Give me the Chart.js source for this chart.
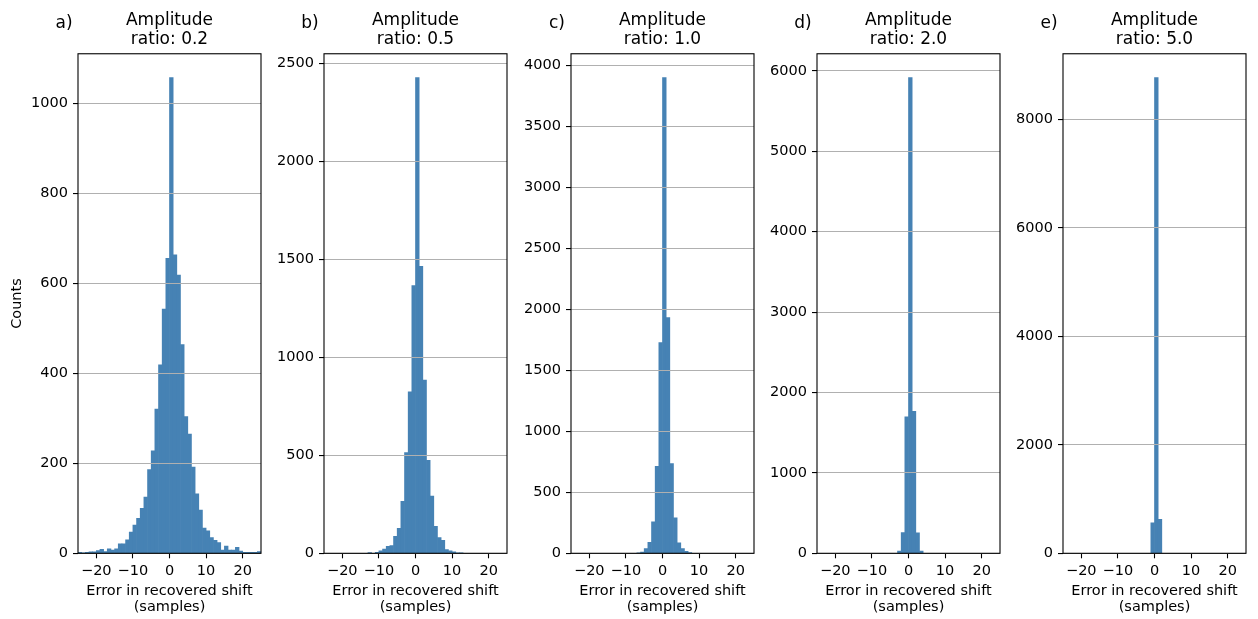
<!DOCTYPE html>
<html><head><meta charset="utf-8">
<script src="https://cdn.jsdelivr.net/npm/chart.js@4.4.1/dist/chart.umd.min.js"></script>
<style>
html,body{margin:0;padding:0;background:#fff;width:1258px;height:619px;overflow:hidden;position:relative;}
canvas{position:absolute;top:0;}
</style></head><body>
<script>
// Histogram bin left edges (bin width 1)
const binLeft = [-25,-24,-23,-22,-21,-20,-19,-18,-17,-16,-15,-14,-13,-12,-11,-10,-9,-8,-7,-6,-5,-4,-3,-2,-1,
                 0,1,2,3,4,5,6,7,8,9,10,11,12,13,14,15,16,17,18,19,20,21,22,23,24];

const countsA = [2,1,2,3,3,6,9,4,10,7,10,21,21,30,47,63,78,100,125,186,228,321,419,543,656,
                 1058,664,619,464,304,265,192,132,96,56,50,35,29,24,7,16,7,7,13,5,2,2,2,2,4];
const countsB = [0,0,0,0,0,0,0,0,0,0,0,0,4,0,5,12,22,36,40,87,128,265,514,823,1366,
                 2427,1464,883,474,292,138,80,66,19,12,7,3,3,0,0,0,0,0,0,0,0,0,0,0,0];
const countsC = [0,0,0,0,0,0,0,0,0,0,0,0,0,0,0,0,0,0,2,11,38,90,257,713,1727,
                 3899,1932,735,290,85,38,16,5,0,0,0,0,0,0,0,0,0,0,0,0,0,0,0,0,0];
const countsD = [0,0,0,0,0,0,0,0,0,0,0,0,0,0,0,0,0,0,0,0,0,0,29,257,1696,
                 5916,1766,253,29,0,0,0,0,0,0,0,0,0,0,0,0,0,0,0,0,0,0,0,0,0];
const countsE = [0,0,0,0,0,0,0,0,0,0,0,0,0,0,0,0,0,0,0,0,0,0,0,0,560,
                 8776,627,0,0,0,0,0,0,0,0,0,0,0,0,0,0,0,0,0,0,0,0,0,0,0];

const panelLetters = ['a)','b)','c)','d)','e)'];
const ratioLabels = ['0.2','0.5','1.0','2.0','5.0'];
const xTicks = [-20,-10,0,10,20];
const yTicksA = [0,200,400,600,800,1000];
const yTicksB = [0,500,1000,1500,2000,2500];
const yTicksC = [0,500,1000,1500,2000,2500,3000,3500,4000];
const yTicksD = [0,1000,2000,3000,4000,5000,6000];
const yTicksE = [0,2000,4000,6000,8000];
const yMax = [1111,2548,4094,6212,9215];

const allCounts = [countsA,countsB,countsC,countsD,countsE];
const allYTicks = [yTicksA,yTicksB,yTicksC,yTicksD,yTicksE];

// layout (pixels)
const plotLefts = [78,324,571,817,1063];
const yAxisWidth = 78;
const canvasW = 266, canvasH = 619;

Chart.defaults.font.family = "'DejaVu Sans', sans-serif";
Chart.defaults.color = '#000';

const fmt = v => (v < 0 ? '\u2212' + Math.abs(v) : String(v));

const framePlugin = {
  id: 'frame',
  afterDraw(chart, args, opts) {
    const {ctx, chartArea: a} = chart;
    ctx.save();
    ctx.strokeStyle = '#000';
    ctx.lineWidth = 1.1;
    ctx.strokeRect(a.left, a.top, a.right - a.left, a.bottom - a.top);
    ctx.font = "17px 'DejaVu Sans', sans-serif";
    ctx.fillStyle = '#000';
    ctx.textAlign = 'center';
    ctx.textBaseline = 'middle';
    ctx.fillText(opts.letter, a.left - 14, 24);
    ctx.restore();
  }
};

allCounts.forEach((counts, i) => {
  const cv = document.createElement('canvas');
  cv.width = canvasW; cv.height = canvasH;
  cv.style.width = canvasW + 'px'; cv.style.height = canvasH + 'px';
  cv.style.left = (plotLefts[i] - yAxisWidth) + 'px';
  document.body.appendChild(cv);
  const yTicks = allYTicks[i];
  new Chart(cv, {
    type: 'bar',
    data: {
      datasets: [{
        data: binLeft.map((b, j) => ({x: b + 0.5, y: counts[j]})),
        backgroundColor: '#4682b4',
        borderWidth: 0,
        barPercentage: 1,
        categoryPercentage: 1
      }]
    },
    options: {
      responsive: false,
      animation: false,
      devicePixelRatio: 1,
      layout: {padding: {left: 0, right: 5, top: 0, bottom: 0}},
      plugins: {
        legend: {display: false},
        tooltip: {enabled: false},
        title: {
          display: true, fullSize: false,
          text: ['Amplitude', 'ratio: ' + ratioLabels[i]],
          color: '#000',
          font: {size: 17, weight: 'normal', lineHeight: 1.14},
          padding: {top: 11, bottom: 4}
        },
        frame: {letter: panelLetters[i]}
      },
      scales: {
        x: {
          type: 'linear', min: -25, max: 25, offset: false,
          afterBuildTicks: s => { s.ticks = xTicks.map(v => ({value: v})); },
          afterFit: s => { s.height = 65.7; },
          grid: {display: true, drawOnChartArea: false, offset: false, tickLength: 5, tickColor: '#000', tickWidth: 1.1},
          border: {display: false},
          ticks: {color: '#000', font: {size: 14.5}, padding: 4, maxRotation: 0, autoSkip: false, callback: v => fmt(v)},
          title: {display: true, text: ['Error in recovered shift', '(samples)'], color: '#000',
                  font: {size: 14.5, lineHeight: 1.1}, padding: {top: 0, bottom: 4.2}}
        },
        y: {
          min: 0, max: yMax[i],
          afterBuildTicks: s => { s.ticks = yTicks.map(v => ({value: v})); },
          afterFit: s => { s.width = yAxisWidth; },
          grid: {color: '#b0b0b0', lineWidth: 1.1, tickColor: '#000', tickLength: 5, tickWidth: 1.1, z: 1},
          border: {display: false},
          ticks: {color: '#000', font: {size: 14.5}, padding: 5, callback: v => fmt(v)},
          title: {display: i === 0, text: 'Counts', color: '#000', font: {size: 14.5}, padding: {top: 9, bottom: 0}}
        }
      }
    },
    plugins: [framePlugin]
  });
});
</script>
</body></html>
